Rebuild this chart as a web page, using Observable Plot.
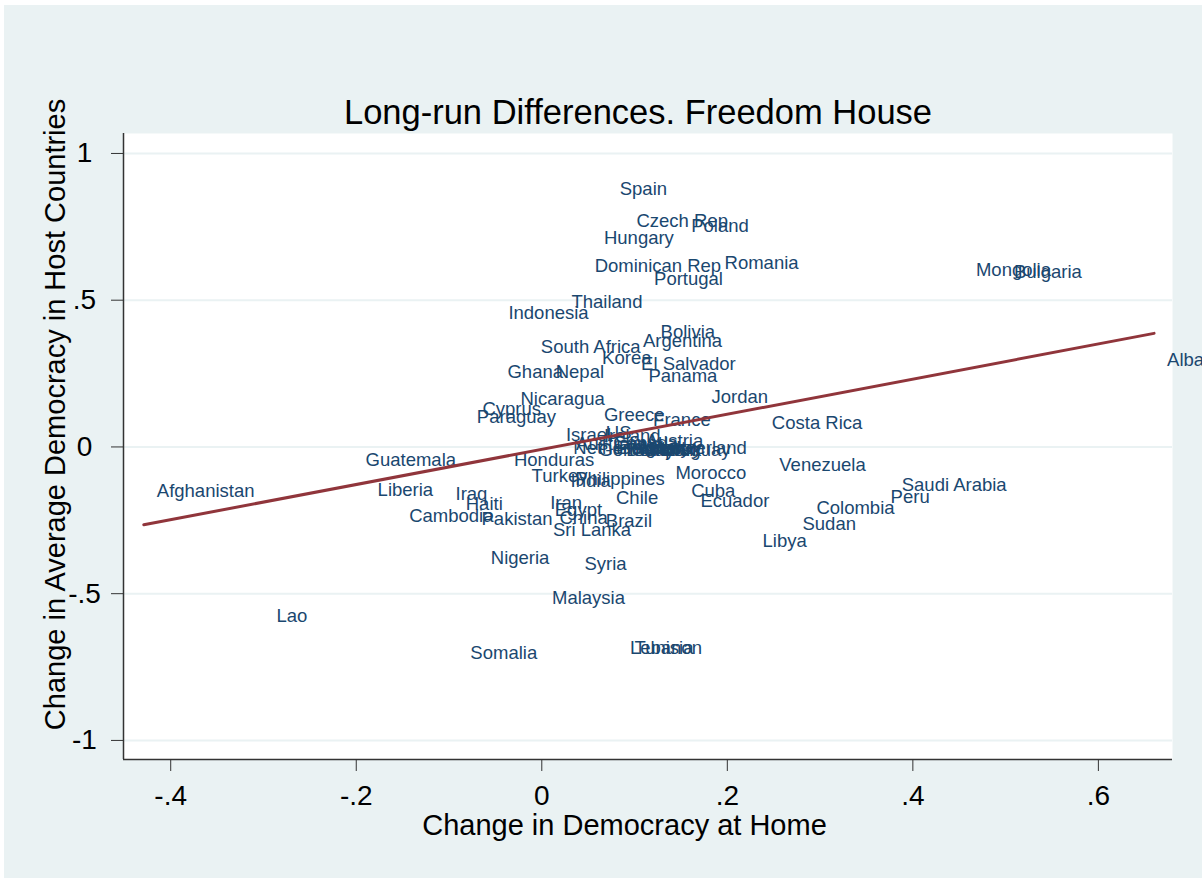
<!DOCTYPE html>
<html>
<head>
<meta charset="utf-8">
<script src="https://cdn.jsdelivr.net/npm/d3@7"></script>
<script src="https://cdn.jsdelivr.net/npm/@observablehq/plot@0.6"></script>
<style>
  html, body { margin: 0; padding: 0; background: #ffffff; }
  #chart { position: absolute; left: 4px; top: 5px; width: 1198px; height: 873px; overflow: hidden; }
  #chart svg { background: #eaf2f3; font-family: "Liberation Sans", Arial, sans-serif; }
</style>
</head>
<body>
<div id="chart"></div>
<script>
// Country labels
const countries = [
  "Spain","Czech Rep","Poland","Hungary","Dominican Rep","Romania","Portugal",
  "Mongolia","Bulgaria","Thailand","Indonesia","Bolivia","Argentina","South Africa",
  "Korea","El Salvador","Panama","Ghana","Nepal","Albania","Jordan","Nicaragua",
  "Cyprus","Paraguay","Greece","France","Costa Rica",
  "Israel","US","Ireland","Austria","Australia","Canada","Netherlands","Germany",
  "Belgium","Denmark","Norway","Sweden","Italy","Japan","Uruguay","Switzerland","Finland",
  "Guatemala","Honduras","Venezuela","Turkey","India","Philippines","Morocco",
  "Afghanistan","Liberia","Saudi Arabia","Cuba","Peru","Iraq","Chile","Ecuador",
  "Haiti","Iran","Colombia","Egypt","Cambodia","Pakistan","China","Brazil","Sudan",
  "Sri Lanka","Libya","Nigeria","Syria","Malaysia","Lao","Somalia","Lebanon","Tunisia"
];
// Change in Democracy at Home (x)
const homeChange = [
  0.070,0.088,0.147,0.053,0.043,0.183,0.107,
  0.454,0.495,0.018,-0.050,0.114,0.095,-0.015,
  0.051,0.093,0.101,-0.051,0.001,0.660,0.169,-0.037,
  -0.078,-0.084,0.053,0.106,0.234,
  0.012,0.055,0.053,0.098,0.023,0.063,0.020,0.047,
  0.069,0.077,0.091,0.084,0.109,0.098,0.114,0.104,0.066,
  -0.204,-0.044,0.242,-0.025,0.017,0.022,0.130,
  -0.429,-0.191,0.374,0.147,0.362,-0.107,0.066,0.157,
  -0.096,-0.005,0.282,0.000,-0.157,-0.079,0.005,0.055,0.267,
  -0.002,0.224,-0.069,0.032,-0.003,-0.300,-0.091,0.081,0.086
];
// Change in Average Democracy in Host Countries (y)
const hostChange = [
  0.878,0.769,0.752,0.711,0.616,0.626,0.571,
  0.602,0.595,0.493,0.456,0.391,0.361,0.340,
  0.303,0.282,0.241,0.255,0.255,0.296,0.170,0.163,
  0.129,0.102,0.109,0.092,0.082,
  0.041,0.048,0.037,0.020,0.010,0.014,-0.005,-0.010,
  -0.005,-0.010,-0.005,-0.010,-0.005,-0.010,-0.010,-0.005,-0.003,
  -0.044,-0.044,-0.061,-0.099,-0.116,-0.109,-0.088,
  -0.150,-0.146,-0.129,-0.150,-0.170,-0.160,-0.173,-0.184,
  -0.194,-0.190,-0.207,-0.214,-0.235,-0.245,-0.241,-0.252,-0.262,
  -0.282,-0.320,-0.378,-0.398,-0.514,-0.578,-0.704,-0.684,-0.684
];
const xTicks = [-0.4, -0.2, 0, 0.2, 0.4, 0.6];
const yTicks = [-1, -0.5, 0, 0.5, 1];
const titleText = "Long-run Differences. Freedom House";
const xTitle = "Change in Democracy at Home";
const yTitle = "Change in Average Democracy in Host Countries";

const data = countries.map((c, i) => ({country: c, x: homeChange[i], y: hostChange[i]}));
const fmt = v => v === 0 ? "0" : String(v).replace("0.", ".");

const xDomain = [-0.4509, 0.6799];
const yDomain = [-1.065, 1.068];

const chart = Plot.plot({
  width: 1198,
  height: 873,
  marginLeft: 119,
  marginRight: 30,
  marginTop: 128,
  marginBottom: 119,
  x: {domain: xDomain},
  y: {domain: yDomain},
  style: {background: "#eaf2f3", fontFamily: "Liberation Sans, Arial, sans-serif", overflow: "visible"},
  marks: [
    Plot.frame({fill: "white", stroke: null}),
    Plot.gridY(yTicks, {stroke: "#eaf2f3", strokeOpacity: 1, strokeWidth: 2}),
    Plot.ruleX([xDomain[0]], {stroke: "#333333", strokeWidth: 1.5}),
    Plot.ruleY([yDomain[0]], {stroke: "#333333", strokeWidth: 1.5}),
    Plot.axisX(xTicks, {tickSize: 12, tickPadding: 14, fontSize: 28, tickFormat: fmt, stroke: "#333333", fill: "#000000", label: null}),
    Plot.axisY(yTicks, {tickSize: 12, tickPadding: 27, fontSize: 28, tickFormat: fmt, textAnchor: "middle", stroke: "#333333", fill: "#000000", label: null}),
    Plot.text(data, {x: "x", y: "y", text: "country", textAnchor: "start", dx: 13, fontSize: 18.5, fill: "#1a476f"}),
    Plot.linearRegressionY(data, {x: "x", y: "y", stroke: "#90353b", strokeWidth: 3, ci: 0}),
    Plot.text([titleText], {frameAnchor: "top", textAnchor: "middle", dx: -10, dy: -21, fontSize: 34.5, fill: "#000000", lineAnchor: "middle"}),
    Plot.text([xTitle], {frameAnchor: "bottom", textAnchor: "middle", dx: -23.5, dy: 66, fontSize: 29, fill: "#000000", lineAnchor: "middle"}),
    Plot.text([yTitle], {frameAnchor: "left", textAnchor: "middle", dx: -68, dy: -32, rotate: -90, fontSize: 29, fill: "#000000", lineAnchor: "middle"})
  ]
});
document.getElementById("chart").appendChild(chart);
</script>
</body>
</html>
